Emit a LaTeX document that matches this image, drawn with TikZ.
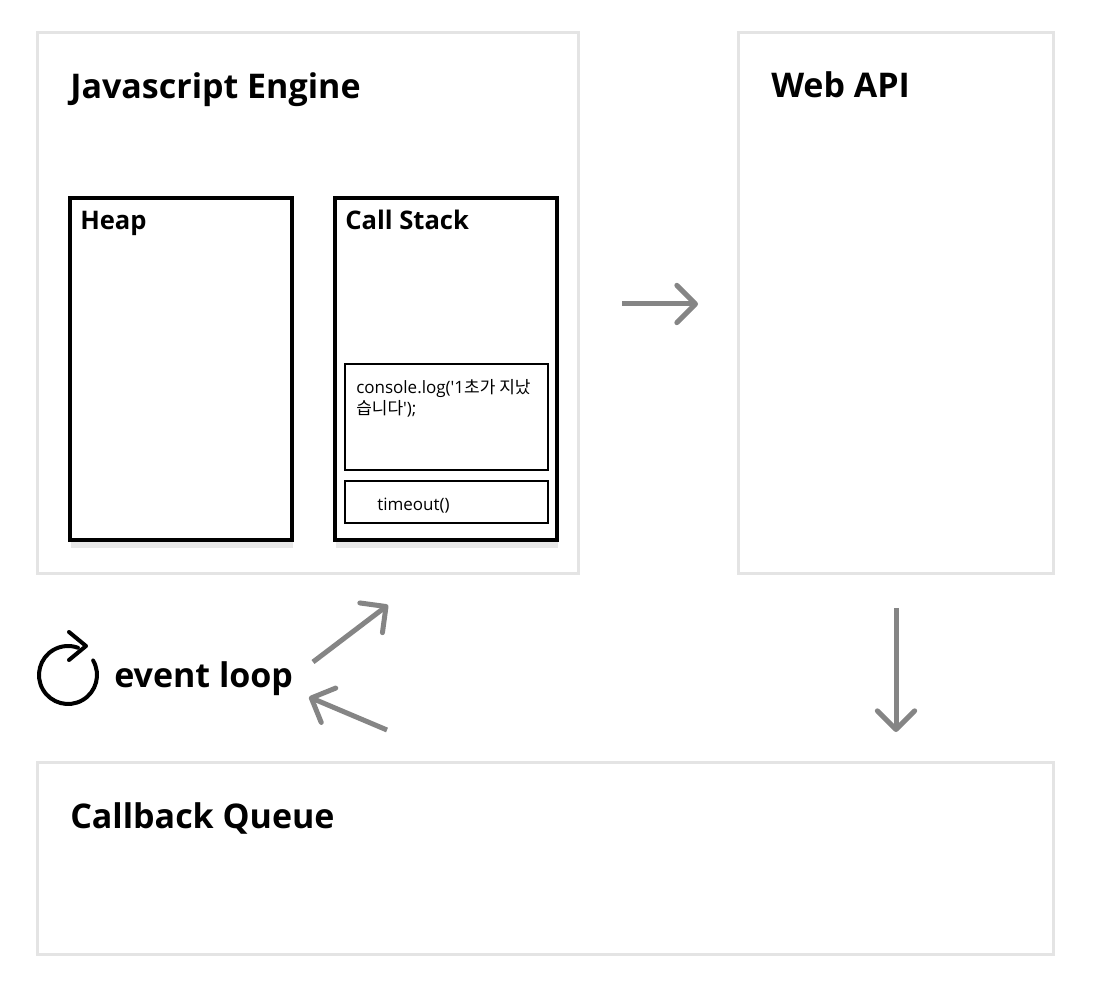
\documentclass[tikz,border=0pt]{standalone}
\usepackage{fontspec}
\setmainfont{Open Sans}
\newfontfamily\kofont{Noto Sans CJK KR}
\usetikzlibrary{arrows.meta,fit,shadows}
\definecolor{boxgray}{HTML}{E4E4E4}
\definecolor{arrowgray}{HTML}{858585}

\begin{document}
\begin{tikzpicture}[x=0.75pt,y=-0.75pt]
\tikzstyle{area} = [draw=boxgray,line width=2.25pt,inner sep=0pt];
\tikzstyle{mem} = [draw,line width=3pt,fill=white,inner sep=0pt,drop shadow={shadow xshift=1pt,shadow yshift=-6pt,opacity=0.18}];
\tikzstyle{frame} = [draw,line width=1.5pt,inner sep=0pt];
\tikzstyle{title} = [anchor=base west,inner sep=0pt,font=\fontsize{25.5}{30}\selectfont\bfseries];
\tikzstyle{sub} = [anchor=base west,inner sep=0pt,font=\fontsize{19.2}{24}\selectfont\bfseries];
\tikzstyle{code} = [anchor=base west,inner sep=0pt,align=left,font=\fontsize{12.75}{16}\selectfont];
\tikzstyle{flow} = [draw=arrowgray,line width=3.75pt,-{Straight Barb[length=14pt,width=28pt,round]}];
\useasboundingbox (0,0) rectangle (1095,994);

% outer areas
\node [area,fit={(37,33) (578,573)}] (engine) {};
\node [area,fit={(738,33) (1053,573)}] (webapi) {};
\node [area,fit={(37,762) (1053,954)}] (queue) {};
\node [title] (engtitle) at (70,99) {Javascript Engine};
\node [title] (webtitle) at (771,98) {Web API};
\node [title] (quetitle) at (70,828) {Callback Queue};

% heap and stack
\node [mem,fit={(70,198) (292,540)}] (heap) {};
\node [mem,fit={(335,198) (557,540)}] (stack) {};
\node [sub] (heaptitle) at (80,230) {Heap};
\node [sub] (stacktitle) at (345,230) {Call Stack};
\node [frame,fit={(345,364) (548,470)}] (logframe) {};
\node [frame,fit={(345,481) (548,523)}] (timeframe) {};
\node [code] (logtext) at (356,415) {console.log(\textquotesingle1{\kofont 초가 지났}\\{\kofont 습니다}\textquotesingle);};
\node [code] (timetext) at (377,510) {timeout()};

% event loop
\draw [line width=3pt,line cap=round] (68,675) ++(-30:29) arc [start angle=-30,end angle=290,radius=29];
\draw [line width=3pt,line cap=round,line join=round] (69,632) -- (86,646) -- (69,660);
\node [title] (looptitle) at (114,687) {event loop};

% arrows
\coordinate (webfrom) at (622,304);
\coordinate (webto) at (698,304);
\coordinate (quefrom) at (896,608);
\coordinate (queto) at (896,732);
\coordinate (upfrom) at (313,662);
\coordinate (upto) at (388,605);
\coordinate (backfrom) at (387,730);
\coordinate (backto) at (309,697);
\draw [flow] (webfrom) -- (webto);
\draw [flow] (quefrom) -- (queto);
\draw [flow] (upfrom) -- (upto);
\draw [flow] (backfrom) -- (backto);
\end{tikzpicture}
\end{document}
